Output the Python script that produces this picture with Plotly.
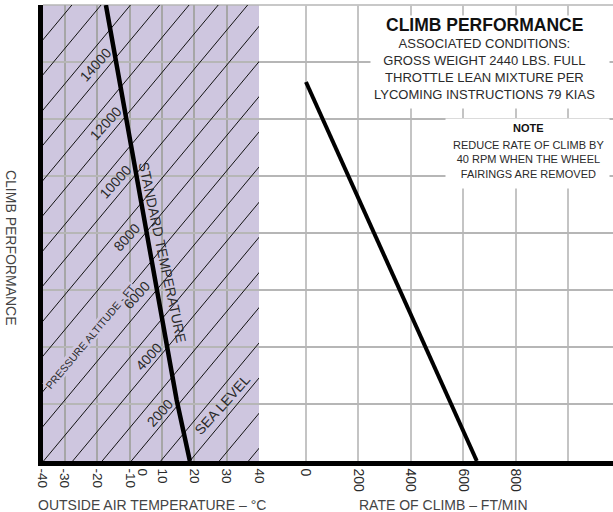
import plotly.graph_objects as go

# ---------------- data ----------------
# left panel: outside air temperature (deg C) vs altitude (ft)
temp_grid_pos = [-31.9, -20, -7.8, 4.1, 15.9, 28.1, 40]
temp_grid_text = ["-30", "-20", "-10", "10", "20", "30", "40"]
temp_extra_pos = [-40, -3.0]
temp_extra_text = ["-40", "0"]

# standard temperature line
std_temp_c = [-16.7, 9.5, 14.4]
std_alt_ft = [16000, 2140, 0]

# pressure altitude guide lines: temperature at altitude 0 and at 16000 ft
hatch_bottom_temp = [36.1, 25.3, 14.4, 3.6, -7.3, -18.1, -29.0, -39.8, -50.7, -61.5,
                     -72.4, -83.2, -94.1, -104.9, -115.8, -126.6, -137.5, -148.3, -159.2, -170.0]
hatch_top_temp = [176.8, 166.0, 155.1, 144.3, 133.4, 122.6, 111.7, 100.9, 90.0, 79.2,
                  68.3, 57.5, 46.6, 35.8, 24.9, 14.1, 3.2, -7.6, -18.5, -29.3]
hatch_alt_range = [0, 16000]

# pressure altitude labels
pa_labels = ["14000", "12000", "10000", "8000", "6000", "4000", "2000", "SEA LEVEL"]
pa_label_temp = [-20.7, -16.7, -13.3, -8.9, -5.3, -1.0, 3.2, 26.3]
pa_label_alt = [13900, 11860, 9790, 7860, 5830, 3660, 1700, 1970]

# right panel: rate of climb
climb_rate_fpm = [0, 651]
climb_alt_ft = [13300, 0]
rate_ticks = [0, 200, 400, 600, 800, 1000]
rate_tick_text = ["0", "200", "400", "600", "800", ""]

alt_grid = [0, 2000, 4000, 6000, 8000, 10000, 12000, 14000, 16000]

FONT = "Liberation Sans, Arial, sans-serif"
TXT = "#2a2a2a"
GRID_L = "#a6a6a6"
GRID_R = "#c4c4c4"
GRID_Y = "#b6b6b6"
LAV = "#cec6df"

fig = go.Figure()

# hatch lines
hx, hy = [], []
for b, t in zip(hatch_bottom_temp, hatch_top_temp):
    hx += [b, t, None]
    hy += [hatch_alt_range[0], hatch_alt_range[1], None]
fig.add_trace(go.Scatter(x=hx, y=hy, mode="lines", xaxis="x", yaxis="y",
                         line=dict(color="#111111", width=1), hoverinfo="skip",
                         showlegend=False))

# standard temperature
fig.add_trace(go.Scatter(x=std_temp_c, y=std_alt_ft, mode="lines", xaxis="x", yaxis="y",
                         line=dict(color="black", width=4.5), showlegend=False))

# rate of climb line
fig.add_trace(go.Scatter(x=climb_rate_fpm, y=climb_alt_ft, mode="lines", xaxis="x2", yaxis="y",
                         line=dict(color="black", width=4), showlegend=False))

split = 216 / 570

fig.update_layout(
    template="none",
    width=613, height=512,
    margin=dict(l=43, r=0, t=5, b=51, pad=0),
    paper_bgcolor="white", plot_bgcolor="white",
    font=dict(family=FONT, color=TXT),
    showlegend=False,
    xaxis=dict(domain=[0, split], range=[-40, 40], anchor="y", automargin=False,
               tickmode="array", tickvals=temp_grid_pos, ticktext=temp_grid_text,
               tickangle=90, tickfont=dict(size=13.5, color=TXT), ticks="",
               showgrid=True, gridcolor=GRID_L, gridwidth=1.5, zeroline=False,
               showline=True, linewidth=4.5, linecolor="black"),
    xaxis2=dict(domain=[split, 1], range=[-179, 1170], anchor="y", automargin=False,
                tickmode="array", tickvals=rate_ticks, ticktext=rate_tick_text,
                tickangle=90, tickfont=dict(size=14, color=TXT), ticks="",
                showgrid=True, gridcolor=GRID_R, gridwidth=1.5, zeroline=False,
                showline=True, linewidth=4.5, linecolor="black"),
    yaxis=dict(domain=[0, 1], range=[0, 16000], anchor="x", automargin=False,
               tickmode="array", tickvals=alt_grid, showticklabels=False,
               showgrid=True, gridcolor=GRID_Y, gridwidth=1.5, zeroline=False,
               showline=True, linewidth=4.5, linecolor="black", ticks=""),
)

# lavender panel background
fig.add_shape(type="rect", xref="x domain", yref="y domain", x0=0, x1=1, y0=0, y1=1,
              fillcolor=LAV, line=dict(width=0), layer="below")
# top border
fig.add_shape(type="line", xref="paper", yref="paper", x0=0, x1=1, y0=1, y1=1,
              line=dict(color=GRID_Y, width=1.5), layer="below")

C = dict(xanchor="center", yanchor="middle", showarrow=False)
ann = []
# white boxes behind the text blocks
ann.append(dict(text=" ", xref="x2 domain", yref="y domain", x=0.314, y=0.978,
                xanchor="left", yanchor="top", width=238, height=92, bgcolor="white",
                showarrow=False, borderpad=0))
ann.append(dict(text=" ", xref="x2 domain", yref="y domain", x=0.525, y=0.752,
                xanchor="left", yanchor="top", width=163, height=69, bgcolor="white",
                showarrow=False, borderpad=0))
ann.append(dict(text="<b>CLIMB PERFORMANCE</b>", xref="x2 domain", yref="y domain",
                x=0.636, y=0.956, font=dict(size=17.5, color="#111"), **C))
ann.append(dict(text="ASSOCIATED CONDITIONS:<br>GROSS WEIGHT 2440 LBS. FULL<br>"
                     "THROTTLE LEAN MIXTURE PER<br>LYCOMING INSTRUCTIONS 79 KIAS",
                xref="x2 domain", yref="y domain", x=0.636, y=0.859,
                font=dict(size=13, color=TXT), **C))
ann.append(dict(text="<b>NOTE</b>", xref="x2 domain", yref="y domain",
                x=0.760, y=0.730, font=dict(size=11, color="#111"), **C))
ann.append(dict(text="REDUCE RATE OF CLIMB BY<br>40 RPM WHEN THE WHEEL<br>FAIRINGS ARE REMOVED",
                xref="x2 domain", yref="y domain", x=0.762, y=0.662,
                font=dict(size=11, color=TXT), **C))
# pressure altitude title (drawn first so number labels stay on top)
ann.append(dict(text="PRESSURE ALTITUDE - FT", xref="x", yref="y", x=-22.3, y=4380,
                textangle=-50, bgcolor=LAV, borderpad=0,
                font=dict(size=10.5, color=TXT), **C))
# pressure altitude labels
for txt, tx, ty in zip(pa_labels, pa_label_temp, pa_label_alt):
    ann.append(dict(text=txt, xref="x", yref="y", x=tx, y=ty, textangle=-48,
                    font=dict(size=14, color=TXT), **C))
ann.append(dict(text="STANDARD TEMPERATURE", xref="x", yref="y", x=4.3, y=7340,
                textangle=78, font=dict(size=14, color=TXT), **C))
# extra temperature tick labels
for txt, tx in zip(temp_extra_text, temp_extra_pos):
    ann.append(dict(text=txt, xref="x", yref="paper", x=tx, y=-0.012, yanchor="top",
                    xanchor="center", textangle=90, showarrow=False,
                    font=dict(size=13.5, color=TXT)))
ann.append(dict(text="CLIMB PERFORMANCE", xref="paper", yref="paper", x=-0.056, y=0.467,
                textangle=90, font=dict(size=14, color="#444"), **C))
ann.append(dict(text="OUTSIDE AIR TEMPERATURE – °C", xref="paper", yref="paper",
                x=0.191, y=-0.0965, font=dict(size=14, color="#444"), **C))
ann.append(dict(text="RATE OF CLIMB – FT/MIN", xref="paper", yref="paper",
                x=0.7035, y=-0.0965, font=dict(size=14, color="#444"), **C))
fig.update_layout(annotations=ann)

fig.write_html("out.html", config={"displayModeBar": False},
               post_script="document.body.style.margin='0';document.body.style.overflow='hidden';")
